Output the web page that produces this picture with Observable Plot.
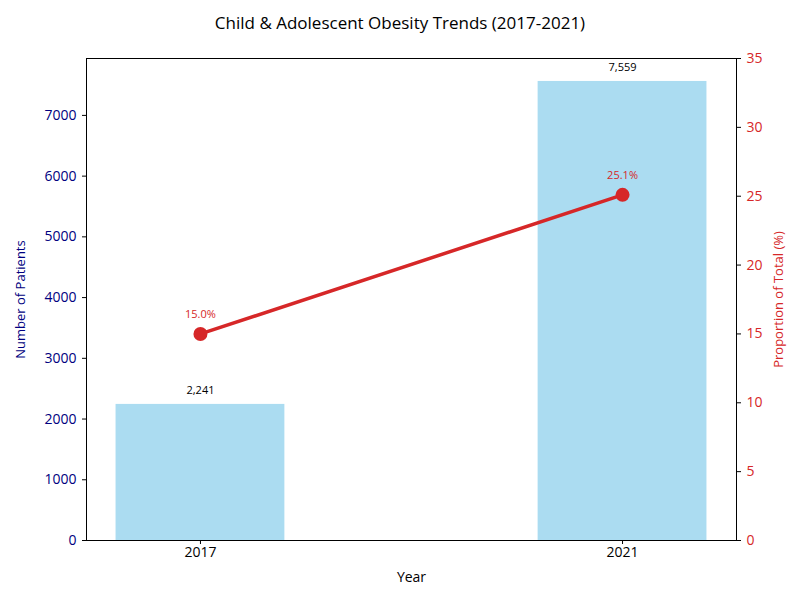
<!DOCTYPE html>
<html>
<head>
<meta charset="utf-8">
<script src="https://cdn.jsdelivr.net/npm/d3@7"></script>
<script src="https://cdn.jsdelivr.net/npm/@observablehq/plot@0.6"></script>
<style>
  body { margin: 0; background: #fff; font-family: "Open Sans", sans-serif; }
  #title { height: 45px; line-height: 46px; text-align: center; font-size: 17px; color: #000; }
</style>
</head>
<body>
<div id="title">Child &amp; Adolescent Obesity Trends (2017-2021)</div>
<div id="chart"></div>
<script>
const years = ["2017", "2021"];
const patients = [2241, 7559];
const proportions = [15.0, 25.1];
const rightTicks = [0, 5, 10, 15, 20, 25, 30, 35];
const leftTicks = [0, 1000, 2000, 3000, 4000, 5000, 6000, 7000];

const yMax = 7559 * 1.05;
const rightMax = 35;
const k = yMax / rightMax;
const navy = "#000080";
const red = "#d62728";

const data = years.map((y, i) => ({i, year: y, patients: patients[i], prop: proportions[i], propY: proportions[i] * k}));

const chart = Plot.plot({
  width: 800,
  height: 555,
  marginTop: 13,
  marginBottom: 60,
  marginLeft: 86,
  marginRight: 64,
  style: {fontFamily: "Open Sans, sans-serif", fontSize: "14px", background: "#fff"},
  x: {domain: [-0.27, 1.27]},
  y: {domain: [0, yMax]},
  marks: [
    Plot.rectY(data, {x1: d => d.i - 0.2, x2: d => d.i + 0.2, y1: 0, y2: "patients", fill: "#abdcf1"}),
    Plot.text(data, {x: "i", y: "patients", text: d => d3.format(",")(d.patients), dy: -14, fontSize: 11, fill: "#000"}),
    Plot.line(data, {x: "i", y: "propY", stroke: red, strokeWidth: 3.5}),
    Plot.dot(data, {x: "i", y: "propY", r: 7, fill: red}),
    Plot.text(data, {x: "i", y: "propY", text: d => d.prop.toFixed(1) + "%", dy: -19, fontSize: 11, fill: red}),
    Plot.frame({stroke: "#000"}),
    Plot.axisX([0, 1], {tickFormat: d => years[d], tickSize: 4, tickPadding: 3, fontSize: 14, fill: "#000", stroke: "#000", label: "Year", labelAnchor: "center", labelArrow: "none", labelOffset: 41}),
    Plot.axisY(leftTicks, {anchor: "left", tickSize: 4, tickPadding: 6, stroke: "#000", fill: navy, fontSize: 14, tickFormat: d => String(d), label: null}),
    Plot.axisY(rightTicks.map(v => v * k), {anchor: "right", tickSize: 4, tickPadding: 6, stroke: "#000", fill: red, fontSize: 14, tickFormat: d => String(Math.round(d / k)), label: null}),
    Plot.text(["Number of Patients"], {frameAnchor: "left", textAnchor: "middle", dx: -66, rotate: -90, fill: navy, fontSize: 13}),
    Plot.text(["Proportion of Total (%)"], {frameAnchor: "right", textAnchor: "middle", dx: 42, rotate: -90, fill: red, fontSize: 13})
  ]
});
document.getElementById("chart").appendChild(chart);
</script>
</body>
</html>
